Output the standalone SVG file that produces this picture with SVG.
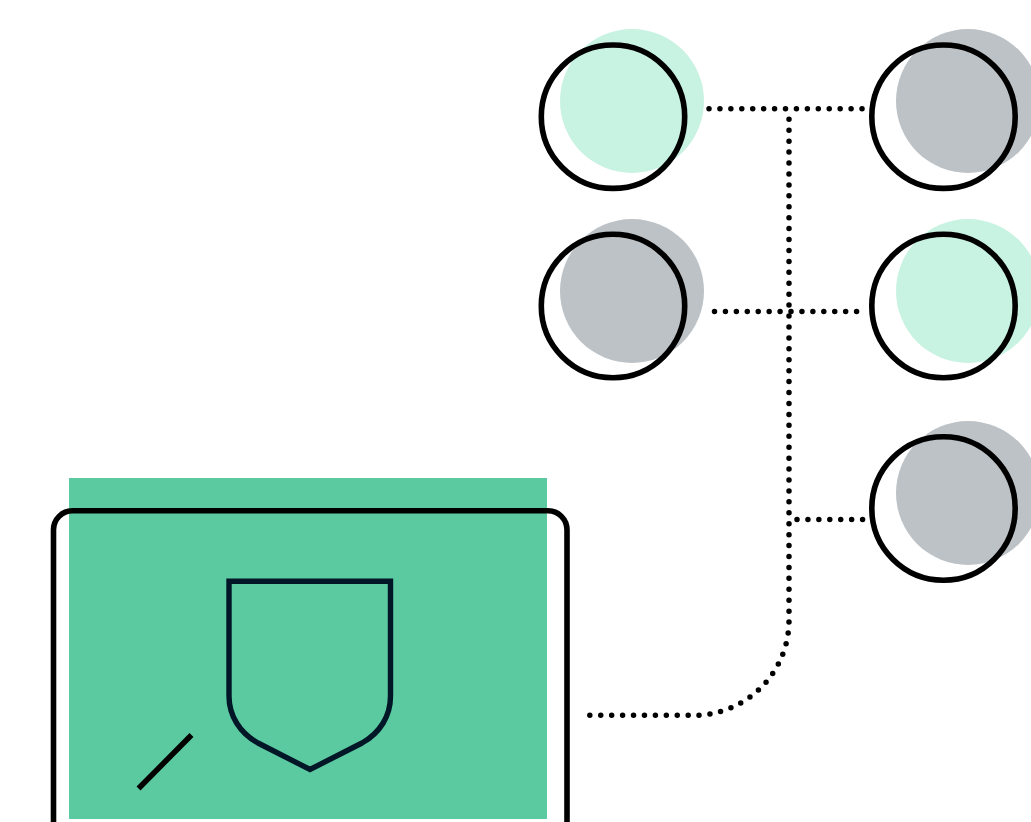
<svg xmlns="http://www.w3.org/2000/svg" width="1031" height="822" viewBox="0 0 1031 822">
<style>
.ring{fill:none;stroke:#000;stroke-width:5.600}
.mint{fill:#c8f2e2}
.grey{fill:#bdc2c6}
.dot{fill:none;stroke:#000;stroke-width:5.500;stroke-linecap:round;stroke-dasharray:0 10.93}
</style>
<rect width="1031" height="822" fill="#fff"/>
<g id="node-a"><circle class="mint" cx="632" cy="101" r="72"/><circle class="ring" cx="613" cy="116.700" r="71.700"/></g>
<g id="node-b"><circle class="grey" cx="968" cy="101" r="72"/><circle class="ring" cx="943.500" cy="116.700" r="71.700"/></g>
<g id="node-c"><circle class="grey" cx="632" cy="291" r="72"/><circle class="ring" cx="613" cy="306" r="71.700"/></g>
<g id="node-d"><circle class="mint" cx="968" cy="291" r="72"/><circle class="ring" cx="943.500" cy="306" r="71.700"/></g>
<g id="node-e"><circle class="grey" cx="968" cy="493" r="72"/><circle class="ring" cx="943.500" cy="508.500" r="71.700"/></g>
<g id="node-main">
<rect x="69" y="478" width="478" height="341" fill="#5ccaa0"/>
<rect class="ring" x="53.500" y="510.800" width="513.500" height="360" rx="19"/>
<path d="M229 581.300H390.500V696C390.500 716 380 733 362 743L310 769.500L258 743C240 733 229 716 229 696Z" fill="none" stroke="#011627" stroke-width="5.400"/>
<line x1="138.500" y1="788.500" x2="191.500" y2="735" stroke="#000" stroke-width="5.500"/>
</g>
<g id="connectors">
<path class="dot" d="M709 108.700H863"/>
<path class="dot" d="M714.500 311.500H858"/>
<path class="dot" d="M797 519.500H863"/>
<path class="dot" d="M789 119.300V620A95 95 0 0 1 694 715.300H589"/>
</g>
</svg>
